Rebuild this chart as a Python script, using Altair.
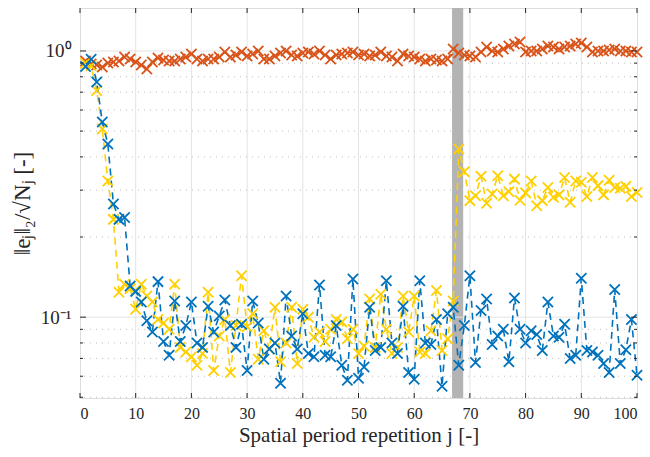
import altair as alt
import pandas as pd

# ---- data ----
j_vals = list(range(1, 101))

blue = [0.875, 0.93, 0.764, 0.541, 0.447, 0.266, 0.233, 0.237, 0.131, 0.125,
        0.114, 0.097, 0.088, 0.136, 0.081, 0.072, 0.115, 0.081, 0.093, 0.114,
        0.080, 0.077, 0.110, 0.088, 0.101, 0.116, 0.093, 0.077, 0.094, 0.063,
        0.115, 0.095, 0.0695, 0.076, 0.080, 0.0565, 0.120, 0.085, 0.076, 0.103,
        0.073, 0.071, 0.132, 0.072, 0.071, 0.093, 0.066, 0.058, 0.139, 0.059,
        0.065, 0.109, 0.075, 0.077, 0.137, 0.080, 0.073, 0.110, 0.062, 0.0585,
        0.137, 0.080, 0.079, 0.098, 0.055, 0.103, 0.109, 0.066, 0.093, 0.143,
        0.0675, 0.106, 0.117, 0.079, 0.085, 0.090, 0.068, 0.118, 0.090, 0.080,
        0.089, 0.086, 0.075, 0.114, 0.085, 0.084, 0.094, 0.070, 0.072, 0.140,
        0.075, 0.074, 0.072, 0.067, 0.062, 0.127, 0.067, 0.0755, 0.098, 0.0605]

orange = [0.917, 0.894, 0.886, 0.871, 0.901, 0.909, 0.917, 0.949, 0.933, 0.909,
          0.886, 0.856, 0.909, 0.941, 0.925, 0.917, 0.917, 0.933, 0.949, 0.974,
          0.933, 0.917, 0.933, 0.933, 0.949, 0.991, 0.949, 0.966, 0.991, 0.958,
          0.974, 1.000, 0.933, 0.933, 0.958, 0.983, 1.000, 0.966, 0.958, 0.983,
          0.991, 0.974, 1.000, 0.966, 0.933, 0.966, 0.974, 0.983, 0.991, 0.966,
          0.974, 0.958, 0.966, 0.991, 0.958, 0.949, 0.917, 0.974, 0.958, 0.949,
          0.933, 0.917, 0.933, 0.925, 0.917, 0.933, 1.017, 0.983, 0.966, 0.958,
          0.949, 0.991, 1.035, 1.000, 0.991, 1.017, 1.044, 1.063, 1.081, 0.991,
          1.000, 1.000, 1.017, 1.044, 1.035, 1.017, 1.035, 1.044, 1.063, 1.072,
          1.035, 0.991, 1.000, 1.000, 1.009, 1.017, 1.000, 1.000, 0.991, 0.991]

yellow = [0.90, 0.88, 0.71, 0.509, 0.325, 0.233, 0.124, 0.133, 0.128, 0.107,
          0.133, 0.120, 0.114, 0.098, 0.095, 0.090, 0.133, 0.077, 0.074, 0.071,
          0.066, 0.073, 0.124, 0.063, 0.085, 0.098, 0.062, 0.093, 0.143, 0.092,
          0.103, 0.0695, 0.089, 0.076, 0.109, 0.068, 0.080, 0.109, 0.067, 0.107,
          0.100, 0.084, 0.088, 0.081, 0.090, 0.098, 0.096, 0.083, 0.090, 0.073,
          0.078, 0.117, 0.077, 0.122, 0.090, 0.073, 0.077, 0.120, 0.088, 0.120,
          0.074, 0.073, 0.089, 0.126, 0.075, 0.083, 0.115, 0.428, 0.352, 0.274,
          0.286, 0.338, 0.268, 0.290, 0.340, 0.286, 0.296, 0.330, 0.275, 0.293,
          0.325, 0.262, 0.274, 0.307, 0.282, 0.288, 0.335, 0.270, 0.325, 0.321,
          0.284, 0.335, 0.312, 0.288, 0.327, 0.307, 0.305, 0.310, 0.284, 0.294]

series_names = ["orange", "yellow", "blue"]
series_colors = ["#D95319", "#FFD000", "#0072BD"]

band_start = [66.8]
band_end = [68.8]

x_ticks = [0, 10, 20, 30, 40, 50, 60, 70, 80, 90, 100]
y_major = [0.1, 1.0]
y_minor = [0.05, 0.06, 0.07, 0.08, 0.09, 0.2, 0.3, 0.4, 0.5, 0.6, 0.7, 0.8, 0.9]

W, H = 557, 390
FONT = "Liberation Serif, Times New Roman, serif"
TXT = "#262626"

rows = []
for name, vals in zip(series_names, [orange, yellow, blue]):
    for jj, v in zip(j_vals, vals):
        rows.append({"j": jj, "e": v, "s": name})
df = pd.DataFrame(rows)

xs = alt.Scale(domain=[0, 100], nice=False, zero=False)
ys = alt.Scale(type="log", domain=[0.0497, 1.45], nice=False)

x_axis = alt.Axis(values=x_ticks, title="Spatial period repetition j [-]",
                  grid=False, ticks=False, domain=False,
                  labelFont=FONT, labelFontSize=16, labelColor=TXT,
                  labelPadding=7, titleFont=FONT, titleFontSize=21,
                  titleFontWeight="normal", titleColor=TXT, titlePadding=3)
y_axis = alt.Axis(values=y_major, title="‖eⱼ‖₂/√Nⱼ [-]",
                  labelExpr="datum.value > 0.5 ? '10⁰' : '10⁻¹'",
                  grid=False, ticks=False, domain=False,
                  labelFont=FONT, labelFontSize=19, labelColor=TXT,
                  labelPadding=9, titleFont=FONT, titleFontSize=23,
                  titleFontWeight="normal", titleColor=TXT, titlePadding=6)


def X(field):
    return alt.X(field, scale=xs, axis=x_axis)


def Y(field):
    return alt.Y(field, scale=ys, axis=y_axis)


band = alt.Chart(pd.DataFrame({"a": band_start, "b": band_end})).mark_rect(
    color="#b3b3b3").encode(
    x=X("a:Q"), x2="b:Q", y=alt.value(0), y2=alt.value(H))

vgrid = alt.Chart(pd.DataFrame({"x": x_ticks[1:-1]})).mark_rule(
    color="#e3e3e3", strokeWidth=1).encode(x=X("x:Q"))

hgrid_major = alt.Chart(pd.DataFrame({"y": y_major})).mark_rule(
    color="#e3e3e3", strokeWidth=1).encode(y=Y("y:Q"))

hgrid_minor = alt.Chart(pd.DataFrame({"y": y_minor})).mark_rule(
    color="#bdbdbd", strokeWidth=1, strokeDash=[1, 5]).encode(y=Y("y:Q"))

color = alt.Color("s:N", scale=alt.Scale(domain=series_names, range=series_colors),
                  legend=None)

lines = alt.Chart(df).mark_line(strokeDash=[7, 5], strokeWidth=1.6).encode(
    x=X("j:Q"), y=Y("e:Q"), color=color, detail="s:N", order="j:Q")

points = alt.Chart(df).mark_point(
    shape="M-1,-1L1,1M-1,1L1,-1", filled=False, size=105, strokeWidth=1.8,
    opacity=1).encode(x=X("j:Q"), y=Y("e:Q"), color=color)

# inward tick marks on the box
xt_bot = alt.Chart(pd.DataFrame({"x": x_ticks})).mark_rule(color=TXT).encode(
    x=X("x:Q"), y=alt.value(H), y2=alt.value(H - 5))
xt_top = alt.Chart(pd.DataFrame({"x": x_ticks})).mark_rule(color=TXT).encode(
    x=X("x:Q"), y=alt.value(0), y2=alt.value(5))
ymaj_l = alt.Chart(pd.DataFrame({"y": y_major})).mark_rule(color=TXT).encode(
    y=Y("y:Q"), x=alt.value(0), x2=alt.value(6))
ymaj_r = alt.Chart(pd.DataFrame({"y": y_major})).mark_rule(color=TXT).encode(
    y=Y("y:Q"), x=alt.value(W), x2=alt.value(W - 6))
ymin_l = alt.Chart(pd.DataFrame({"y": y_minor})).mark_rule(color=TXT).encode(
    y=Y("y:Q"), x=alt.value(0), x2=alt.value(3))
ymin_r = alt.Chart(pd.DataFrame({"y": y_minor})).mark_rule(color=TXT).encode(
    y=Y("y:Q"), x=alt.value(W), x2=alt.value(W - 3))

chart = alt.layer(
    band, vgrid, hgrid_major, hgrid_minor, lines, points,
    xt_bot, xt_top, ymaj_l, ymaj_r, ymin_l, ymin_r
).properties(
    width=W, height=H,
    autosize=alt.AutoSizeParams(type="none"),
    padding={"left": 80, "top": 8, "right": 13, "bottom": 59},
).configure_view(
    stroke=TXT, strokeWidth=1.2
).configure(background="white")

chart.save("out.html", embed_options={"renderer": "svg", "actions": False})
